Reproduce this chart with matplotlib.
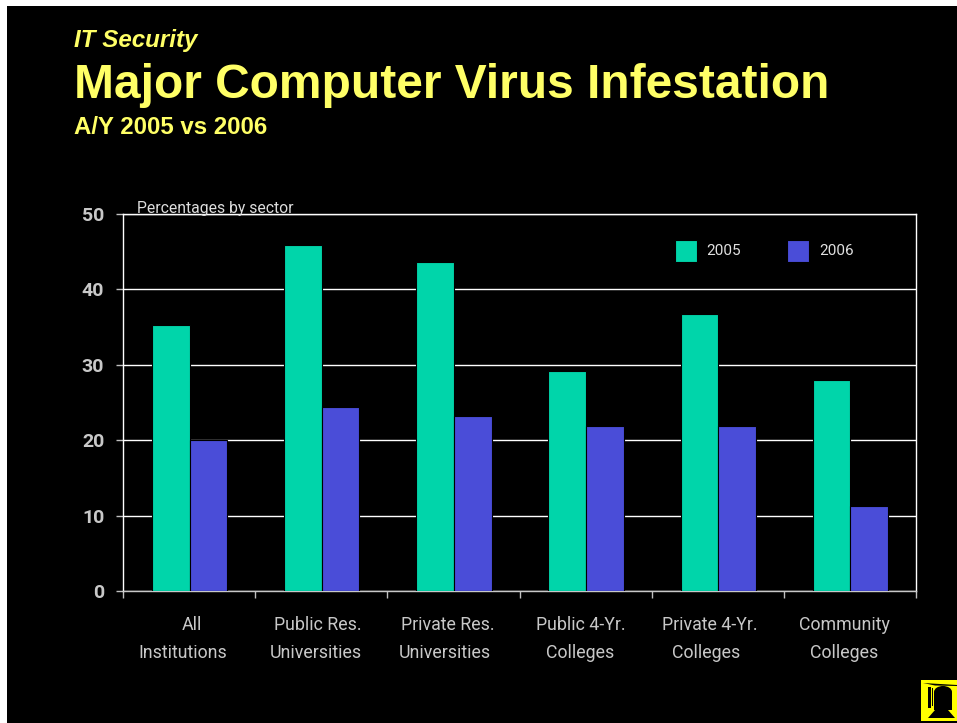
import matplotlib
matplotlib.use("Agg")
import matplotlib.pyplot as plt
from matplotlib.patches import Rectangle, Polygon, Ellipse
import numpy as np

categories = ["All\nInstitutions", "Public Res.\nUniversities", "Private Res.\nUniversities",
              "Public 4-Yr.\nColleges", "Private 4-Yr.\nColleges", "Community\nColleges"]
values_2005 = [35.3, 45.9, 43.7, 29.2, 36.8, 28.0]
values_2006 = [20.0, 24.4, 23.2, 21.9, 21.9, 11.3]
series_names = ["2005", "2006"]
y_ticks = [0, 10, 20, 30, 40, 50]

W, H = 957, 723
plt.rcParams['font.family'] = ['Liberation Sans', 'DejaVu Sans']
NARROW = ['Roboto', 'Liberation Sans', 'DejaVu Sans']
fig = plt.figure(figsize=(W/100, H/100), dpi=100, facecolor='white')

def fx(px): return px / W
def fy(py): return 1 - py / H

fig.add_artist(Rectangle((fx(7), 0), 1 - fx(7), fy(6), transform=fig.transFigure,
                         facecolor='black', edgecolor='none', zorder=-10))

YEL = '#FFFF66'
fig.text(fx(74), fy(47), "IT Security", color=YEL, fontsize=17.4, fontweight='bold', style='italic')
fig.text(fx(74), fy(98), "Major Computer Virus Infestation", color=YEL, fontsize=34.5, fontweight='bold')
fig.text(fx(74), fy(134), "A/Y 2005 vs 2006", color=YEL, fontsize=17.3, fontweight='bold')

ax = fig.add_axes([fx(123), fy(591), (916-123)/W, (591-214)/H], facecolor='black')
x = np.arange(len(categories))
w = 0.285
ax.bar(x - w/2 + 0.004, values_2005, w, color='#00D5AA', edgecolor='black', linewidth=0.8, zorder=3, label=series_names[0])
ax.bar(x + w/2 + 0.004, values_2006, w, color='#4A4DD8', edgecolor='black', linewidth=0.8, zorder=3, label=series_names[1])
ax.set_xlim(-0.5, 5.5)
ax.set_ylim(0, 50)
ax.set_yticks(y_ticks)
ax.set_yticklabels([str(v) for v in y_ticks], color='#C8C8C8', fontsize=14, fontweight='bold', family=NARROW)
ax.yaxis.grid(True, color='white', linewidth=1.0, zorder=1)
ax.set_axisbelow(True)
ax.tick_params(axis='y', length=5, width=1, color='#C0C0C0', pad=8.5)
ax.set_xticks(np.arange(-0.5, 6, 1))
ax.set_xticklabels([])
ax.tick_params(axis='x', length=5, width=1, color='#C0C0C0', direction='out')
for s in ax.spines.values():
    s.set_color('white'); s.set_linewidth(1.0)
ax.spines['bottom'].set_color('#C8C8C8')

centres1 = [192, 318, 448, 581, 710, 844]
centres2 = [183, 316, 445, 580, 706, 844]
for i, c in enumerate(categories):
    l1, l2 = c.split("\n")
    fig.text(fx(centres1[i]), fy(630), l1, color='#C8C8C8', fontsize=12.8, ha='center', family=NARROW)
    fig.text(fx(centres2[i]), fy(658), l2, color='#C8C8C8', fontsize=12.8, ha='center', family=NARROW)

fig.text(fx(137), fy(213), "Percentages by sector", color='#DDDDDD', fontsize=11.3, family=NARROW)

h, labs = ax.get_legend_handles_labels()
leg = ax.legend(h, labs, ncol=2, loc='upper left', bbox_to_anchor=((673-123)/793, 1 - (238-214)/377),
                frameon=False, handlelength=1.44, handleheight=1.84, columnspacing=3.0,
                handletextpad=0.65, borderpad=0.1, borderaxespad=0,
                prop={'family': NARROW, 'size': 11}, labelcolor='#E0E0E0')
leg.set_zorder(5)

# logo
def add(p):
    p.set_transform(fig.transFigure); p.set_edgecolor('none'); p.set_zorder(6)
    fig.add_artist(p)

add(Rectangle((fx(921), fy(721)), 1 - fx(921), fy(680) - fy(721), facecolor='#FFFF00'))
add(Rectangle((fx(934), fy(710)), fx(18), fy(692) - fy(710), facecolor='black'))
add(Ellipse((fx(943), fy(692)), fx(18), fy(686) - fy(698), facecolor='black'))
add(Polygon([(fx(923), fy(683)), (fx(957), fy(685)), (fx(957), fy(686)), (fx(935), fy(685.5))], facecolor='black'))
add(Polygon([(fx(928), fy(718)), (fx(935), fy(710)), (fx(948), fy(710)), (fx(955), fy(718))], facecolor='black'))
add(Rectangle((fx(928), fy(708)), fx(2.5), fy(687) - fy(708), facecolor='black'))
add(Rectangle((fx(932), fy(706)), fx(1), fy(688) - fy(706), facecolor='black'))

fig.savefig("out.png", dpi=100, facecolor=fig.get_facecolor())
